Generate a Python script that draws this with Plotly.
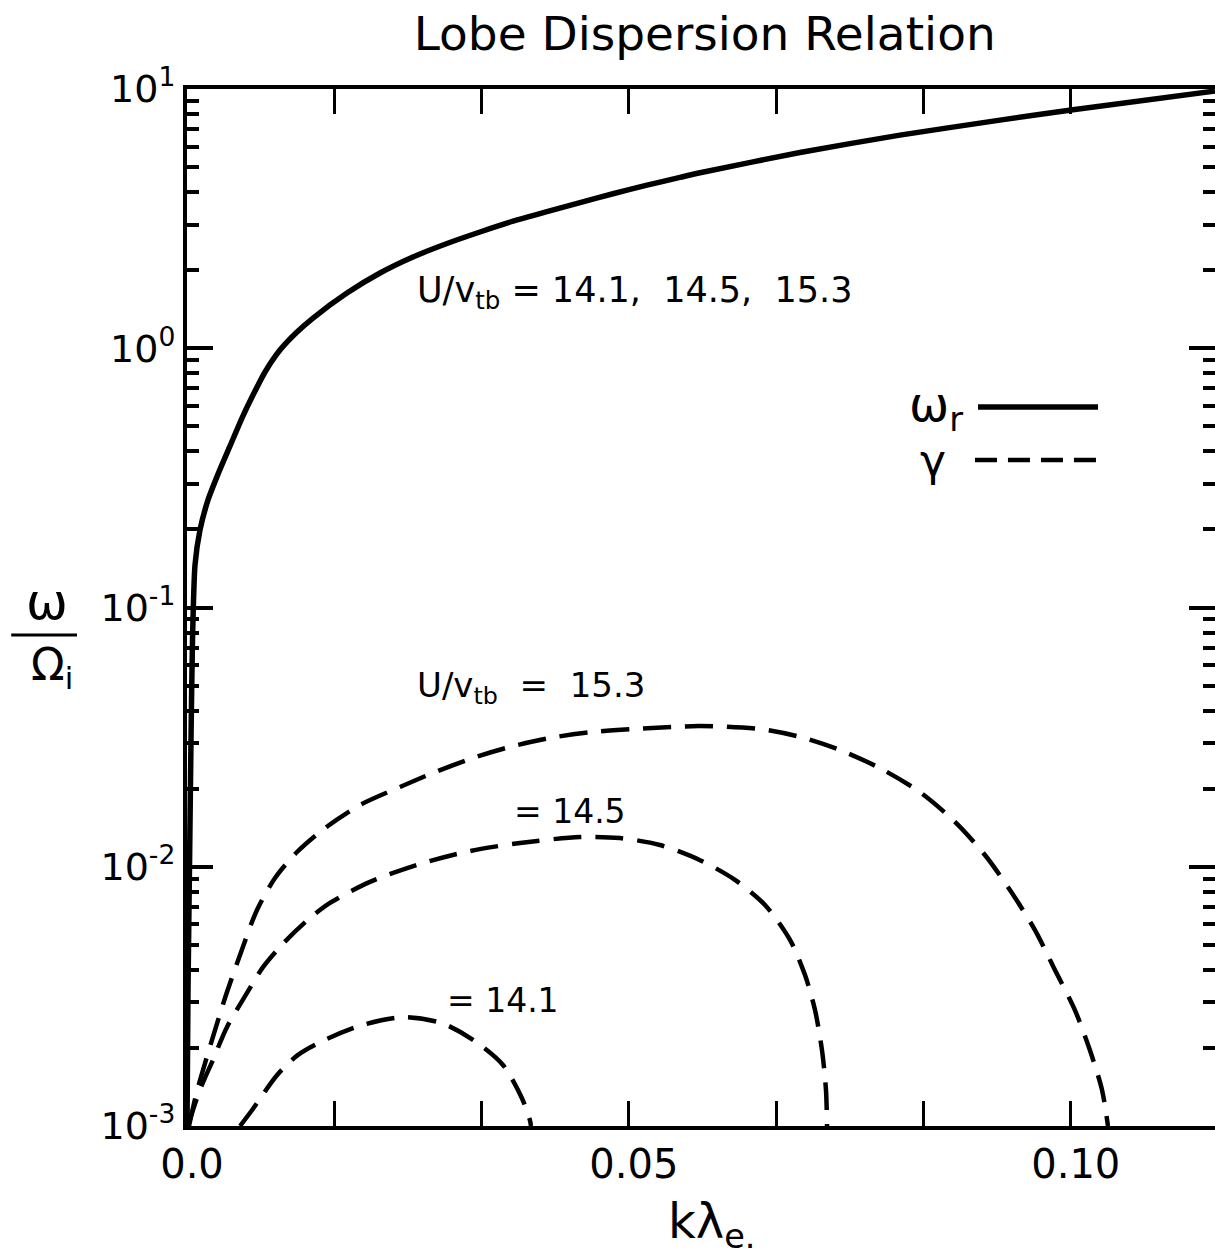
import plotly.graph_objects as go

# Real frequency omega_r / Omega_i versus k*lambda_e (same for all three U/v_tb)
k_real = [0.0, 0.000113, 0.000283, 0.000453, 0.000622, 0.000905, 0.00147, 0.00238,
          0.00351, 0.00487, 0.00622, 0.00747, 0.00883, 0.01052, 0.01233, 0.01426,
          0.0181, 0.02184, 0.02557, 0.02942, 0.03315, 0.03689, 0.04073, 0.04447,
          0.0482, 0.05205, 0.05578, 0.05805, 0.06936, 0.08067, 0.09199, 0.10025,
          0.11632]
omega_r = [0.001, 0.00335, 0.01, 0.0308, 0.0749, 0.1459, 0.199, 0.26,
           0.327, 0.42, 0.538, 0.66, 0.81, 0.984, 1.145, 1.308,
           1.633, 1.951, 2.249, 2.535, 2.808, 3.09, 3.365, 3.648,
           3.945, 4.256, 4.56, 4.753, 5.689, 6.637, 7.586, 8.318,
           9.817]

# Growth rate gamma / Omega_i for U/v_tb = 15.3
k_153 = [0.000226, 0.00102, 0.00215, 0.00328, 0.00441, 0.006, 0.00792, 0.00996,
         0.01245, 0.01561, 0.01957, 0.0241, 0.02783, 0.03236, 0.03655, 0.04107,
         0.04594, 0.05046, 0.05499, 0.05805, 0.06483, 0.06936, 0.07389, 0.07841,
         0.08294, 0.0869, 0.09029, 0.09312, 0.09595, 0.09821, 0.10047, 0.10217,
         0.10353, 0.10421]
gamma_153 = [0.001, 0.001317, 0.0018, 0.00241, 0.0032, 0.00457, 0.00681, 0.00905,
             0.0114, 0.0141, 0.0173, 0.0203, 0.0230, 0.0263, 0.0290, 0.0314,
             0.0331, 0.0340, 0.0346, 0.0349, 0.0340, 0.0317, 0.0282, 0.0240,
             0.0194, 0.0149, 0.0111, 0.00813, 0.0057, 0.0040, 0.0028, 0.00196,
             0.00138, 0.001]

# Growth rate for U/v_tb = 14.5
k_145 = [0.0001, 0.00147, 0.00294, 0.00453, 0.00679, 0.0086, 0.01086, 0.01358,
         0.01618, 0.02071, 0.02636, 0.03202, 0.03768, 0.04447, 0.049, 0.05352,
         0.05805, 0.062, 0.0654, 0.06823, 0.06993, 0.07106, 0.07185, 0.0723,
         0.07242]
gamma_145 = [0.001, 0.00138, 0.0018, 0.00241, 0.00326, 0.0041, 0.00505, 0.0062,
             0.00725, 0.00874, 0.01025, 0.0115, 0.01235, 0.01302, 0.0129, 0.01213,
             0.0106, 0.0089, 0.00712, 0.00522, 0.00382, 0.0028, 0.00196, 0.00138,
             0.001]

# Growth rate for U/v_tb = 14.1
k_141 = [0.006, 0.00735, 0.01018, 0.01256, 0.01561, 0.0198, 0.02444, 0.02874,
         0.03236, 0.03575, 0.0379, 0.03881, 0.03892]
gamma_141 = [0.001, 0.00115, 0.00157, 0.00188, 0.00215, 0.00245, 0.00263, 0.0025,
             0.00215, 0.00172, 0.00128, 0.00105, 0.001]

# Axis ticks
x_tickvals = [0.0, 1 / 60, 2 / 60, 0.05, 4 / 60, 5 / 60, 0.10]
x_ticktext = ["0.0", "", "", "0.05", "", "", "0.10"]
y_tickvals = [0.001, 0.01, 0.1, 1, 10]
y_ticktext = ["10<sup>-3</sup>", "10<sup>-2</sup>", "10<sup>-1</sup>",
              "10<sup>0</sup>", "10<sup>1</sup>"]

FONT = "DejaVu Sans, Verdana, sans-serif"
DASH = "28px,14px"

fig = go.Figure()
fig.add_trace(go.Scatter(x=k_real, y=omega_r, mode="lines",
                         line=dict(color="black", width=5.5,
                                   shape="spline", smoothing=0.6)))
for kx, gy in [(k_153, gamma_153), (k_145, gamma_145), (k_141, gamma_141)]:
    fig.add_trace(go.Scatter(x=kx, y=gy, mode="lines",
                             line=dict(color="black", width=4.5, dash=DASH,
                                       shape="spline", smoothing=0.8)))
# empty trace so the right-hand tick axis is drawn
fig.add_trace(go.Scatter(x=[], y=[], yaxis="y2", showlegend=False))

fig.update_layout(
    width=1215, height=1257,
    margin=dict(l=187, r=0, t=89, b=131),
    paper_bgcolor="white", plot_bgcolor="white",
    showlegend=False,
    font=dict(family=FONT, color="black"),
    title=dict(text="Lobe Dispersion Relation", x=0.58, y=0.9737,
               xanchor="center", yanchor="middle",
               font=dict(size=47, family=FONT, color="black")),
)

fig.update_xaxes(
    range=[0, 0.11632], showline=True, linewidth=4, linecolor="black",
    mirror="ticks", ticks="inside", ticklen=25, tickwidth=3, tickcolor="black",
    tickvals=x_tickvals, ticktext=x_ticktext, tickfont=dict(size=40),
    ticklabelshift=5, showgrid=False, zeroline=False,
)

y_common = dict(
    type="log", range=[-3, 1], ticks="inside", ticklen=26, tickwidth=4,
    tickcolor="black", tickvals=y_tickvals,
    minor=dict(ticks="inside", ticklen=12, tickwidth=4, tickcolor="black",
               dtick="D1", showgrid=False),
    showgrid=False, zeroline=False,
)
fig.update_layout(
    yaxis=dict(**y_common, showline=True, linewidth=4, linecolor="black",
               mirror=False, ticktext=y_ticktext, tickfont=dict(size=38)),
    yaxis2=dict(**y_common, overlaying="y", side="right", showline=False,
                showticklabels=False),
)

annotations = [
    dict(text="U/v<sub>tb</sub> = 14.1,  14.5,  15.3", x=0.2218, y=0.8033,
         xanchor="left", yanchor="middle", font=dict(size=35)),
    dict(text="U/v<sub>tb</sub>  =  15.3", x=0.2218, y=0.4224,
         xanchor="left", yanchor="middle", font=dict(size=34)),
    dict(text="= 14.5", x=0.3161, y=0.3028,
         xanchor="left", yanchor="middle", font=dict(size=33)),
    dict(text="= 14.1", x=0.251, y=0.1215,
         xanchor="left", yanchor="middle", font=dict(size=33)),
    # legend labels
    dict(text="ω<sub>r</sub>", x=0.757, y=0.6933,
         xanchor="right", yanchor="middle", font=dict(size=48)),
    dict(text="γ", x=0.740, y=0.6422,
         xanchor="right", yanchor="middle", font=dict(size=44)),
    # y-axis fraction label: numerator above the bar, denominator below
    dict(text="ω", x=-0.136, y=0.4755, xanchor="center", yanchor="bottom",
         font=dict(size=50)),
    dict(text="Ω<sub>i</sub>", x=-0.131, y=0.4715, xanchor="center", yanchor="top",
         font=dict(size=44)),
    # x-axis label
    dict(text="kλ<sub>e.</sub>", x=0.5107, y=-0.095, xanchor="center", yanchor="middle",
         font=dict(size=48)),
]
for a in annotations:
    a.update(xref="paper", yref="paper", showarrow=False)
    a["font"].update(family=FONT, color="black")
fig.update_layout(annotations=annotations)

shapes = [
    # fraction bar of the y-axis label
    dict(type="line", xref="paper", yref="paper", x0=-0.171, x1=-0.107,
         y0=0.4735, y1=0.4735, line=dict(color="black", width=3)),
    # legend keys
    dict(type="line", xref="paper", yref="paper", x0=0.7695, x1=0.8862,
         y0=0.6933, y1=0.6933, line=dict(color="black", width=5.5)),
    dict(type="line", xref="paper", yref="paper", x0=0.7665, x1=0.891,
         y0=0.6422, y1=0.6422, line=dict(color="black", width=4.5, dash="22px,11px")),
]
fig.update_layout(shapes=shapes)

fig.write_html("out.html")
